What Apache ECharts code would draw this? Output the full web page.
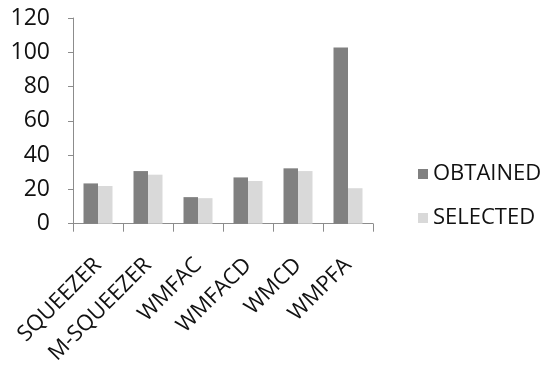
<!DOCTYPE html>
<html>
<head>
<meta charset="utf-8">
<script src="https://cdn.jsdelivr.net/npm/echarts@6/dist/echarts.min.js"></script>
<style>
  html, body { margin: 0; padding: 0; background: #fff; }
  #chart { width: 546px; height: 367px; }
</style>
</head>
<body>
<div id="chart"></div>
<script>
// Method names along the x axis
const categories = ['SQUEEZER', 'M-SQUEEZER', 'WMFAC', 'WMFACD', 'WMCD', 'WMPFA'];
// Series values
const obtained = [23.5, 30.7, 15.5, 27.0, 32.3, 102.8];
const selected = [22.0, 28.6, 14.9, 24.9, 30.7, 20.7];
// Y-axis ticks
const yTicks = [0, 20, 40, 60, 80, 100, 120];

const font = '"Open Sans", "Noto Sans", sans-serif';
const axisGray = '#8c8c8c';

const chart = echarts.init(document.getElementById('chart'), null, { renderer: 'canvas' });
chart.setOption({
  animation: false,
  backgroundColor: '#ffffff',
  grid: { left: 73, right: 173, top: 18, bottom: 142, containLabel: false },
  legend: {
    orient: 'vertical',
    left: 413,
    top: 158,
    itemWidth: 10,
    itemHeight: 10,
    itemGap: 22,
    icon: 'rect',
    textStyle: { fontFamily: font, fontSize: 22, color: '#111' },
    data: ['OBTAINED', 'SELECTED']
  },
  xAxis: {
    type: 'category',
    data: categories,
    boundaryGap: true,
    axisLine: { lineStyle: { color: axisGray, width: 1 } },
    axisTick: { show: true, length: 8, lineStyle: { color: axisGray } },
    axisLabel: {
      rotate: 45,
      margin: 38,
      fontFamily: font,
      fontSize: 22,
      color: '#111'
    }
  },
  yAxis: {
    type: 'value',
    min: yTicks[0],
    max: yTicks[yTicks.length - 1],
    interval: 20,
    splitLine: { show: false },
    axisLine: { show: true, lineStyle: { color: axisGray, width: 1 } },
    axisTick: { show: true, length: 5, lineStyle: { color: axisGray } },
    axisLabel: {
      margin: 23,
      fontFamily: font,
      fontSize: 23,
      color: '#111'
    }
  },
  series: [
    {
      name: 'OBTAINED',
      type: 'bar',
      data: obtained,
      barGap: '0%',
      barCategoryGap: '42%',
      itemStyle: { color: '#808080' }
    },
    {
      name: 'SELECTED',
      type: 'bar',
      data: selected,
      itemStyle: { color: '#d9d9d9' }
    }
  ]
});
</script>
</body>
</html>
